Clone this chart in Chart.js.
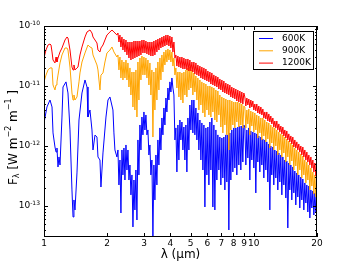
<!DOCTYPE html>
<html lang="en">
<head>
<meta charset="UTF-8">
<title>Spectra</title>
<script src="https://cdn.jsdelivr.net/npm/chart.js"></script>
<style>
  body {margin: 0; background: #fff;}
</style>
</head>
<body>
<canvas id="myChart" width="352" height="264"></canvas>
<script>
// wavelengths (um) and fluxes (W m^-2 m^-1)
// 1 - 2.23 um, each series on its own grid
const lam600 = [1.000,1.033,1.068,1.092,1.104,1.128,1.141,1.153,1.166,1.179,
  1.192,1.218,1.232,1.273,1.301,1.330,1.359,1.375,1.389,1.405,
  1.436,1.468,1.517,1.568,1.603,1.620,1.656,1.693,1.712,1.750,
  1.788,1.808,1.848,1.868,1.910,1.974,2.018,2.062,2.131,2.154,
  2.178,2.226];
const flux600 = [2.42e-12,4.47e-12,5.84e-12,4.47e-12,1.65e-12,9.62e-13,7.94e-13,9.26e-13,4.47e-13,6.56e-13,
  4.82e-13,3.04e-12,9.62e-12,1.17e-11,7.65e-12,1.85e-12,1.85e-13,6.56e-14,1.26e-13,8.58e-14,
  3.55e-13,2.71e-12,7.65e-12,1.26e-11,9.62e-12,3.04e-12,3.98e-12,1.85e-12,8.58e-13,1.52e-12,
  1.41e-12,6.56e-13,5.84e-13,2.07e-13,7.65e-13,3.04e-12,5.84e-12,6.56e-12,3.98e-12,1.65e-12,
  8.58e-13,6.56e-13];

const lam900 = [1.000,1.022,1.045,1.068,1.092,1.104,1.128,1.141,1.153,1.166,
  1.192,1.218,1.259,1.287,1.301,1.330,1.359,1.375,1.389,1.405,
  1.436,1.468,1.484,1.517,1.568,1.620,1.656,1.693,1.712,1.750,
  1.788,1.808,1.848,1.868,1.910,1.952,1.995,2.062,2.108,2.154,
  2.226];
const flux900 = [1.17e-11,1.52e-11,1.85e-11,2.00e-11,2.00e-11,1.04e-11,8.58e-12,1.04e-11,1.17e-11,1.52e-11,
  2.42e-11,3.29e-11,4.30e-11,4.30e-11,3.98e-11,2.07e-11,7.65e-12,5.84e-12,7.08e-12,5.84e-12,
  6.56e-12,1.17e-11,1.65e-11,2.51e-11,3.55e-11,4.82e-11,4.47e-11,4.30e-11,3.29e-11,2.71e-11,
  2.24e-11,1.85e-11,8.58e-12,1.52e-11,1.65e-11,2.51e-11,3.55e-11,3.98e-11,4.47e-11,3.69e-11,
  3.04e-11];

const lam1200 = [1.000,1.022,1.045,1.068,1.080,1.092,1.104,1.128,1.141,1.153,
  1.166,1.192,1.218,1.259,1.287,1.301,1.330,1.359,1.375,1.389,
  1.405,1.436,1.452,1.484,1.517,1.568,1.603,1.656,1.693,1.712,
  1.750,1.788,1.808,1.848,1.868,1.910,1.952,1.995,2.062,2.108,
  2.154,2.226];
const flux1200 = [2.93e-11,3.98e-11,4.82e-11,5.01e-11,4.82e-11,3.69e-11,2.71e-11,2.42e-11,3.04e-11,2.51e-11,
  2.93e-11,3.69e-11,4.30e-11,5.84e-11,6.56e-11,6.31e-11,3.98e-11,2.07e-11,1.85e-11,2.24e-11,
  1.85e-11,2.00e-11,2.07e-11,3.29e-11,4.47e-11,6.56e-11,7.94e-11,8.58e-11,7.65e-11,6.56e-11,
  5.84e-11,5.21e-11,3.98e-11,3.69e-11,4.30e-11,4.82e-11,5.84e-11,7.08e-11,7.94e-11,8.58e-11,
  7.94e-11,7.08e-11];

// 2.25 - 4.2 um, shared dense grid
const lamNear = [2.251,2.276,2.301,2.326,2.352,2.378,2.404,2.431,2.458,2.485,
  2.512,2.540,2.568,2.596,2.625,2.654,2.683,2.712,2.742,2.773,
  2.803,2.834,2.865,2.897,2.929,2.961,2.994,3.027,3.060,3.094,
  3.128,3.162,3.197,3.232,3.268,3.304,3.340,3.377,3.415,3.452,
  3.490,3.529,3.568,3.607,3.647,3.687,3.728,3.769,3.811,3.853,
  3.895,3.938,3.981,4.025,4.070,4.115,4.160,4.206];
const near600 = [8.58e-13,2.24e-13,5.84e-13,7.64e-14,8.58e-13,3.29e-13,9.26e-13,2.71e-13,1.04e-12,3.98e-13,
  8.58e-13,2.71e-13,4.82e-13,1.53e-13,3.29e-13,4.47e-14,2.71e-13,8.58e-14,3.98e-13,5.84e-14,
  1.26e-12,3.29e-13,2.24e-12,8.58e-13,3.04e-12,1.53e-12,3.69e-12,1.85e-12,3.29e-12,1.53e-12,
  1.85e-12,7.08e-13,1.04e-12,3.29e-13,5.84e-13,3.04e-14,4.82e-13,1.26e-13,7.08e-13,2.24e-13,
  1.26e-12,4.82e-13,2.00e-12,8.58e-13,2.93e-12,1.53e-12,4.30e-12,2.24e-12,6.31e-12,3.69e-12,
  9.26e-12,5.84e-12,1.17e-11,7.94e-12,1.36e-11,9.26e-12,7.08e-12,1.26e-12];
const near900 = [3.29e-11,1.85e-11,3.04e-11,1.36e-11,2.71e-11,1.26e-11,2.51e-11,1.36e-11,2.71e-11,1.26e-11,
  2.42e-11,9.62e-12,2.00e-11,7.08e-12,1.71e-11,4.47e-12,1.71e-11,3.98e-12,1.85e-11,3.04e-12,
  2.51e-11,5.84e-12,2.93e-11,1.26e-11,3.16e-11,1.53e-11,3.04e-11,1.53e-11,2.93e-11,1.36e-11,
  2.71e-11,1.04e-11,2.42e-11,7.08e-12,1.85e-11,1.41e-12,1.71e-11,3.98e-12,2.00e-11,5.84e-12,
  2.51e-11,8.58e-12,2.93e-11,1.26e-11,3.29e-11,1.71e-11,3.69e-11,2.24e-11,3.98e-11,2.51e-11,
  4.14e-11,2.71e-11,3.98e-11,2.51e-11,3.69e-11,2.15e-11,2.93e-11,1.53e-11];
const near1200 = [7.64e-11,5.41e-11,7.08e-11,4.47e-11,6.56e-11,3.98e-11,6.07e-11,3.69e-11,5.84e-11,3.29e-11,
  5.41e-11,2.93e-11,5.41e-11,2.71e-11,5.41e-11,2.82e-11,5.62e-11,2.93e-11,5.62e-11,3.04e-11,
  5.62e-11,3.16e-11,5.62e-11,3.29e-11,5.84e-11,3.55e-11,5.84e-11,3.55e-11,5.62e-11,3.42e-11,
  5.41e-11,3.29e-11,5.41e-11,3.16e-11,5.41e-11,3.16e-11,5.62e-11,3.29e-11,5.84e-11,3.69e-11,
  6.07e-11,3.98e-11,6.31e-11,4.30e-11,6.56e-11,4.47e-11,6.81e-11,4.64e-11,7.08e-11,4.82e-11,
  7.08e-11,4.64e-11,6.81e-11,4.30e-11,6.56e-11,3.69e-11,5.41e-11,2.93e-11];

// 4.25 - 9 um, shared dense grid
const lamMid = [4.252,4.299,4.346,4.394,4.443,4.492,4.542,4.592,4.642,4.694,
  4.745,4.797,4.850,4.904,4.957,5.012,5.068,5.123,5.180,5.237,
  5.295,5.354,5.412,5.472,5.533,5.594,5.655,5.718,5.781,5.845,
  5.909,5.975,6.040,6.107,6.174,6.242,6.310,6.380,6.450,6.521,
  6.593,6.665,6.739,6.813,6.888,6.964,7.041,7.118,7.197,7.277,
  7.356,7.437,7.519,7.602,7.686,7.771,7.856,7.943,8.030,8.119,
  8.208,8.299,8.390,8.483,8.577,8.671,8.767,8.863,8.961];
const mid600 = [2.00e-12,3.69e-13,2.24e-12,5.84e-13,2.71e-12,1.26e-12,2.51e-12,8.58e-13,2.07e-12,5.84e-13,
  2.24e-12,3.69e-13,2.93e-12,8.58e-13,4.82e-12,1.85e-12,5.84e-12,1.65e-12,5.84e-12,1.53e-12,
  4.30e-12,1.26e-12,3.55e-12,8.58e-13,2.71e-12,5.84e-13,2.42e-12,3.98e-13,2.24e-12,9.62e-14,
  2.00e-12,3.29e-13,2.07e-12,2.24e-13,2.51e-12,3.98e-13,2.93e-12,9.62e-14,2.24e-12,8.58e-14,
  1.85e-12,2.71e-13,1.53e-12,3.98e-13,1.41e-12,2.24e-13,1.36e-12,2.93e-13,1.41e-12,1.85e-13,
  1.53e-12,2.51e-13,1.53e-12,3.98e-14,1.65e-12,2.71e-13,1.85e-12,3.69e-13,2.00e-12,4.30e-13,
  2.00e-12,3.29e-13,2.07e-12,4.82e-13,2.15e-12,3.98e-13,2.15e-12,5.41e-13,2.24e-12];
const mid900 = [2.00e-11,9.26e-12,1.71e-11,6.56e-12,1.71e-11,5.84e-12,1.65e-11,5.21e-12,1.71e-11,7.08e-12,
  1.85e-11,6.56e-12,2.00e-11,8.58e-12,2.07e-11,9.26e-12,1.85e-11,7.08e-12,1.65e-11,7.94e-12,
  1.47e-11,5.84e-12,1.36e-11,3.98e-12,1.26e-11,4.82e-12,1.17e-11,3.55e-12,1.12e-11,3.04e-12,
  1.08e-11,3.98e-12,1.00e-11,3.29e-12,1.00e-11,3.04e-12,9.62e-12,3.69e-12,9.26e-12,2.71e-12,
  8.58e-12,2.51e-12,8.25e-12,3.29e-12,7.08e-12,2.07e-12,6.56e-12,1.65e-12,6.31e-12,2.24e-12,
  6.07e-12,1.53e-12,5.84e-12,8.58e-13,5.84e-12,1.85e-12,5.62e-12,2.24e-12,5.41e-12,2.00e-12,
  5.41e-12,2.51e-12,5.41e-12,2.07e-12,5.21e-12,2.24e-12,5.01e-12,2.00e-12,4.64e-12];
const mid1200 = [3.29e-11,2.15e-11,3.16e-11,2.07e-11,3.04e-11,2.00e-11,3.04e-11,1.92e-11,2.93e-11,1.92e-11,
  2.82e-11,1.85e-11,2.82e-11,1.78e-11,2.71e-11,1.78e-11,2.51e-11,1.71e-11,2.51e-11,1.59e-11,
  2.42e-11,1.53e-11,2.24e-11,1.47e-11,2.15e-11,1.36e-11,2.07e-11,1.31e-11,2.00e-11,1.26e-11,
  1.92e-11,1.21e-11,1.78e-11,1.17e-11,1.71e-11,1.08e-11,1.65e-11,1.04e-11,1.53e-11,1.00e-11,
  1.47e-11,9.62e-12,1.41e-11,8.91e-12,1.31e-11,8.58e-12,1.26e-11,7.94e-12,1.21e-11,7.64e-12,
  1.12e-11,7.36e-12,1.08e-11,7.08e-12,1.04e-11,6.56e-12,9.62e-12,6.31e-12,9.26e-12,6.07e-12,
  8.91e-12,5.62e-12,8.58e-12,5.41e-12,8.25e-12,5.21e-12,7.94e-12,5.01e-12,7.64e-12];

// 9 - 20 um, shared dense grid
const lamTail = [9.061,9.161,9.262,9.364,9.467,9.571,9.676,9.783,9.891,10.00,
  10.11,10.22,10.33,10.45,10.56,10.68,10.80,10.92,11.04,11.16,
  11.28,11.41,11.53,11.66,11.79,11.92,12.05,12.18,12.32,12.45,
  12.59,12.73,12.87,13.01,13.16,13.30,13.45,13.60,13.75,13.90,
  14.05,14.21,14.36,14.52,14.68,14.84,15.01,15.17,15.34,15.51,
  15.68,15.85,16.03,16.20,16.38,16.56,16.75,16.93,17.12,17.31,
  17.50,17.70,17.89,18.09,18.29,18.49,18.70,18.90,19.11,19.32,
  19.54,19.75,20.0];
const tail600 = [2.07e-12,4.82e-13,1.85e-12,6.31e-13,2.00e-12,2.71e-13,1.78e-12,5.84e-13,1.71e-12,4.30e-13,
  1.65e-12,1.65e-13,1.59e-12,5.41e-13,1.47e-12,3.69e-13,1.41e-12,4.82e-13,1.31e-12,2.93e-13,
  1.26e-12,3.98e-13,1.17e-12,2.51e-13,1.08e-12,8.58e-14,1.00e-12,3.29e-13,9.62e-13,2.24e-13,
  8.58e-13,2.93e-13,8.25e-13,1.85e-13,7.64e-13,2.51e-13,7.08e-13,1.53e-13,6.56e-13,2.24e-13,
  5.84e-13,1.36e-13,5.62e-13,4.30e-14,5.21e-13,1.85e-13,4.82e-13,1.26e-13,4.47e-13,1.65e-13,
  3.83e-13,1.04e-13,3.55e-13,1.41e-13,3.29e-13,9.26e-14,3.04e-13,1.26e-13,2.82e-13,8.58e-14,
  2.42e-13,1.12e-13,2.24e-13,7.94e-14,2.15e-13,6.31e-14,1.85e-13,9.26e-14,1.78e-13,7.08e-14,
  1.65e-13,7.94e-14,1.41e-13];
const tail900 = [4.47e-12,2.00e-12,3.98e-12,2.33e-12,4.14e-12,1.53e-12,3.83e-12,2.15e-12,3.69e-12,1.71e-12,
  3.55e-12,1.85e-12,3.29e-12,1.36e-12,3.16e-12,1.65e-12,2.93e-12,1.26e-12,2.93e-12,1.47e-12,
  2.71e-12,1.17e-12,2.51e-12,1.31e-12,2.42e-12,9.26e-13,2.24e-12,1.12e-12,2.07e-12,8.58e-13,
  2.00e-12,1.00e-12,1.85e-12,7.08e-13,1.71e-12,8.58e-13,1.59e-12,6.56e-13,1.53e-12,7.64e-13,
  1.41e-12,5.41e-13,1.31e-12,6.56e-13,1.21e-12,4.82e-13,1.12e-12,5.62e-13,1.04e-12,3.98e-13,
  9.26e-13,4.64e-13,8.58e-13,3.29e-13,7.94e-13,3.98e-13,7.36e-13,2.93e-13,6.81e-13,3.29e-13,
  5.84e-13,2.42e-13,5.41e-13,2.71e-13,4.82e-13,1.85e-13,4.30e-13,2.15e-13,3.69e-13,1.59e-13,
  3.29e-13,1.41e-13,2.71e-13];
const tail1200 = [6.56e-12,4.64e-12,6.31e-12,4.82e-12,6.07e-12,4.30e-12,5.84e-12,4.47e-12,5.62e-12,3.98e-12,
  5.01e-12,3.83e-12,5.01e-12,3.55e-12,4.64e-12,3.42e-12,4.47e-12,3.29e-12,4.14e-12,2.93e-12,
  3.69e-12,2.82e-12,3.69e-12,2.61e-12,3.42e-12,2.51e-12,3.16e-12,2.33e-12,2.93e-12,2.07e-12,
  2.61e-12,2.00e-12,2.61e-12,1.85e-12,2.33e-12,1.71e-12,2.15e-12,1.59e-12,2.07e-12,1.47e-12,
  1.85e-12,1.36e-12,1.78e-12,1.26e-12,1.59e-12,1.17e-12,1.47e-12,1.08e-12,1.41e-12,9.62e-13,
  1.26e-12,9.26e-13,1.17e-12,8.58e-13,1.08e-12,7.94e-13,1.00e-12,7.08e-13,9.62e-13,6.56e-13,
  8.58e-13,5.84e-13,7.94e-13,5.41e-13,7.08e-13,4.82e-13,6.56e-13,4.30e-13,5.84e-13,3.69e-13,
  5.21e-13,3.16e-13,4.47e-13];

const seriesLabels = ['600K', '900K', '1200K'];
const seriesColors = ['#0000ff', '#ffa500', '#ff0000'];
const xTicks = [1, 2, 3, 4, 5, 6, 7, 8, 9, 10, 20];
const yTicks = [1e-13, 1e-12, 1e-11, 1e-10];
const yTickExps = ['-13', '-12', '-11', '-10'];

function pts(lam, flux, near, mid, tail) {
  const xs = lam.concat(lamNear, lamMid, lamTail);
  const ys = flux.concat(near, mid, tail);
  return xs.map((v, i) => ({x: v, y: ys[i]}));
}

// axes frame, inward ticks, labels, titles, legend
const axesPlugin = {
  id: 'axesPlugin',
  afterDatasetsDraw(chart) {
    const {ctx, chartArea: a, scales: {x, y}} = chart;
    ctx.save();
    ctx.strokeStyle = '#000';
    ctx.lineWidth = 1;
    ctx.strokeRect(a.left + 0.5, a.top + 0.5, a.right - a.left - 1, a.bottom - a.top - 1);

    ctx.beginPath();
    xTicks.forEach(v => {
      const px = Math.round(x.getPixelForValue(v)) + 0.5;
      ctx.moveTo(px, a.bottom); ctx.lineTo(px, a.bottom - 4);
      ctx.moveTo(px, a.top); ctx.lineTo(px, a.top + 4);
    });
    for (let d = -14; d <= -11; d++) {
      for (let m = 1; m <= 9; m++) {
        const v = m * Math.pow(10, d);
        if (v < y.min || v > y.max * 1.0001) continue;
        const py = Math.round(y.getPixelForValue(v)) + 0.5;
        const len = m === 1 ? 4 : 2;
        ctx.moveTo(a.left, py); ctx.lineTo(a.left + len, py);
        ctx.moveTo(a.right, py); ctx.lineTo(a.right - len, py);
      }
    }
    ctx.stroke();

    ctx.fillStyle = '#000';
    ctx.font = '9px "DejaVu Sans"';
    ctx.textAlign = 'center';
    ctx.textBaseline = 'middle';
    xTicks.forEach(v => {
      ctx.fillText(String(v), x.getPixelForValue(v), a.bottom + 7);
    });

    yTicks.forEach((v, i) => {
      const py = y.getPixelForValue(v);
      ctx.textAlign = 'right';
      ctx.font = '6px "DejaVu Sans"';
      const ew = ctx.measureText(yTickExps[i]).width;
      ctx.fillText(yTickExps[i], a.left - 4, py - 3);
      ctx.font = '9px "DejaVu Sans"';
      ctx.fillText('10', a.left - 4 - ew, py);
    });

    // x title
    ctx.font = '12px "DejaVu Sans"';
    ctx.textAlign = 'center';
    ctx.fillText('\u03bb (\u03bcm)', (a.left + a.right) / 2, 255);

    // y title with sub/superscripts
    const parts = [
      ['F', 12, 0], ['\u03bb', 8, 3], [' [W m', 12, 0], ['\u22122', 8, -5],
      [' m', 12, 0], ['\u22121', 8, -5], [' ]', 12, 0]
    ];
    let total = 0;
    parts.forEach(p => { ctx.font = p[1] + 'px "DejaVu Sans"'; total += ctx.measureText(p[0]).width; });
    ctx.translate(14, (a.top + a.bottom) / 2 + 6);
    ctx.rotate(-Math.PI / 2);
    ctx.textAlign = 'left';
    let cx = -total / 2;
    parts.forEach(p => {
      ctx.font = p[1] + 'px "DejaVu Sans"';
      ctx.fillText(p[0], cx, p[2]);
      cx += ctx.measureText(p[0]).width;
    });
    ctx.restore();

    // legend box
    ctx.save();
    ctx.fillStyle = '#fff';
    ctx.fillRect(253.5, 31.5, 60, 38);
    ctx.strokeStyle = '#000';
    ctx.lineWidth = 1;
    ctx.strokeRect(253.5, 31.5, 60, 38);
    ctx.font = '9px "DejaVu Sans"';
    ctx.textAlign = 'left';
    ctx.textBaseline = 'middle';
    seriesLabels.forEach((lab, i) => {
      const ly = 38 + i * 12.3;
      ctx.strokeStyle = seriesColors[i];
      ctx.beginPath();
      ctx.moveTo(259, ly + 0.5); ctx.lineTo(273, ly + 0.5);
      ctx.stroke();
      ctx.fillStyle = '#000';
      ctx.fillText(lab, 282, ly + 0.5);
    });
    ctx.restore();
  }
};

new Chart(document.getElementById('myChart'), {
  type: 'line',
  data: {
    datasets: [
      {label: seriesLabels[0], data: pts(lam600, flux600, near600, mid600, tail600), borderColor: seriesColors[0], order: 3},
      {label: seriesLabels[1], data: pts(lam900, flux900, near900, mid900, tail900), borderColor: seriesColors[1], order: 2},
      {label: seriesLabels[2], data: pts(lam1200, flux1200, near1200, mid1200, tail1200), borderColor: seriesColors[2], order: 1}
    ]
  },
  options: {
    responsive: false,
    animation: false,
    layout: {padding: {left: 44, right: 35, top: 26, bottom: 27}},
    elements: {
      line: {borderWidth: 1, tension: 0},
      point: {radius: 0}
    },
    plugins: {legend: {display: false}, tooltip: {enabled: false}},
    scales: {
      x: {type: 'logarithmic', min: 1, max: 20, display: false},
      y: {type: 'logarithmic', min: 3.04e-14, max: 1e-10, display: false}
    }
  },
  plugins: [axesPlugin]
});
</script>
</body>
</html>
